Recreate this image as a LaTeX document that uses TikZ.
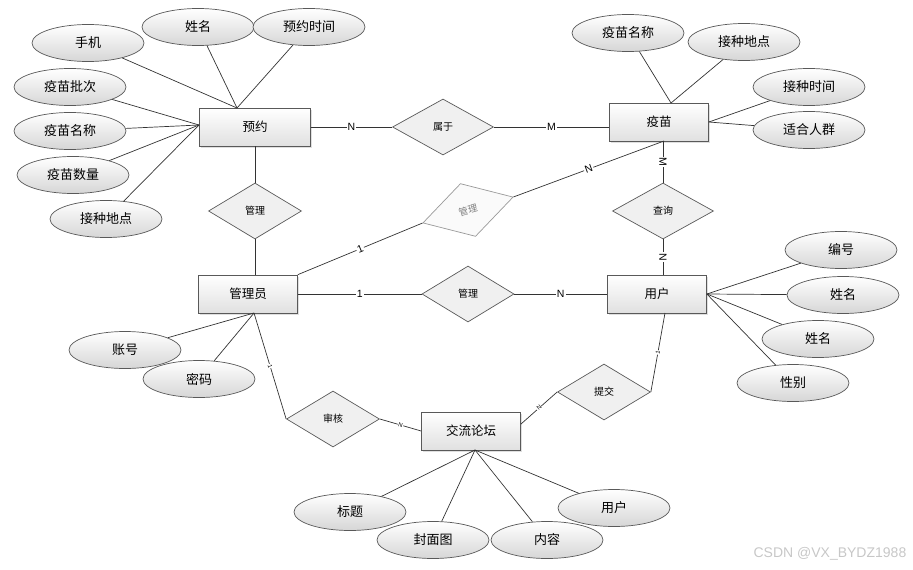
\documentclass[tikz,border=0pt]{standalone}
\usepackage{fontspec}
\setmainfont{Noto Sans CJK SC}
\newfontfamily\wmfont{Liberation Sans}
\usetikzlibrary{shapes.geometric}
\usetikzlibrary{shadows}

\begin{document}
\begin{tikzpicture}
		[x=1pt, y=-1pt, draw=black!80, line width=0.7pt,
		entity/.style={rectangle, draw=black!65, top color=white, bottom color=black!12, minimum width=99pt, minimum height=38pt, inner sep=0pt, font=\fontsize{12.5}{14}\selectfont, drop shadow={opacity=0.25, shadow xshift=1.5pt, shadow yshift=-1.5pt}},
		attr/.style={ellipse, draw=black!65, top color=white, bottom color=black!16, minimum width=112pt, minimum height=37pt, inner sep=0pt, font=\fontsize{13}{15}\selectfont},
		rel/.style={diamond, draw=black!65, fill=black!6, minimum width=101pt, minimum height=56pt, inner sep=0pt, font=\fontsize{10}{12}\selectfont},
		lbl/.style={fill=white, inner sep=1pt, font=\wmfont\fontsize{10.5}{12}\selectfont},
		tinylbl/.style={fill=white, inner sep=0.5pt, font=\wmfont\fontsize{6}{7}\selectfont, sloped}]
		\useasboundingbox (0,0) rectangle (913,570);

		% entities
		\node[entity, minimum width=111pt] (yy) at (255,127) {预约};
		\node[entity] (ym) at (659,122) {疫苗};
		\node[entity] (gly) at (248,294) {管理员};
		\node[entity] (yh) at (657,294) {用户};
		\node[entity] (lt) at (471,431) {交流论坛};

		% relations
		\node[rel] (sy) at (443,127) {属于};
		\node[rel, minimum width=93pt] (gl1) at (255,211) {管理};
		\node[rel, minimum width=94pt, minimum height=55pt, rotate=16, draw=black!40, fill=black!2, text=black!50, font=\fontsize{9.5}{11}\selectfont] (gl2) at (468,210) {管理};
		\node[rel, minimum width=92pt] (gl3) at (468,294) {管理};
		\node[rel] (cx) at (663,211) {查询};
		\node[rel, minimum width=93pt] (sh) at (333,419) {审核};
		\node[rel, minimum width=93pt] (tj) at (604,392) {提交};

		% attributes of 预约
		\node[attr] (sj) at (88,43) {手机};
		\node[attr] (xm1) at (198,27) {姓名};
		\node[attr] (yysj) at (309,27) {预约时间};
		\node[attr] (ympc) at (70,87) {疫苗批次};
		\node[attr] (ymmc1) at (70,131) {疫苗名称};
		\node[attr] (ymsl) at (73,175) {疫苗数量};
		\node[attr] (jzdd1) at (106,219) {接种地点};

		% attributes of 疫苗
		\node[attr] (ymmc2) at (628,33) {疫苗名称};
		\node[attr] (jzdd2) at (744,42) {接种地点};
		\node[attr] (jzsj) at (809,87) {接种时间};
		\node[attr] (shrq) at (809,130) {适合人群};

		% attributes of 用户
		\node[attr] (bh) at (841,250) {编号};
		\node[attr] (xm2) at (843,295) {姓名};
		\node[attr] (xm3) at (818,339) {姓名};
		\node[attr] (xb) at (793,383) {性别};

		% attributes of 管理员
		\node[attr] (zh) at (125,350) {账号};
		\node[attr] (mm) at (199,379) {密码};

		% attributes of 交流论坛
		\node[attr] (bt) at (350,512) {标题};
		\node[attr] (fmt) at (433,540) {封面图};
		\node[attr] (nr) at (547,540) {内容};
		\node[attr] (yh2) at (614,508) {用户};

		\coordinate (yytop) at (237,108);
		\coordinate (yyleft) at (199,125);
		\coordinate (ymtop) at (671,103);
		\coordinate (ymbot) at (664,141);
		\coordinate (glybot) at (254,313);
		\coordinate (yhbot) at (665,313);
		\coordinate (ltbot) at (475,450);
		\coordinate (ltne) at (521,424);

		\draw (sj) to (yytop);
		\draw (xm1) to (yytop);
		\draw (yysj) to (yytop);
		\draw (ympc) to (yyleft);
		\draw (ymmc1) to (yyleft);
		\draw (ymsl) to (yyleft);
		\draw (jzdd1) to (yyleft);

		\draw (ymmc2) to (ymtop);
		\draw (jzdd2) to (ymtop);
		\draw (jzsj) to (ym.east);
		\draw (shrq) to (ym.east);

		\draw (bh) to (yh.east);
		\draw (xm2) to (yh.east);
		\draw (xm3) to (yh.east);
		\draw (xb) to (yh.east);

		\draw (zh) to (glybot);
		\draw (mm) to (glybot);

		\draw (bt) to (ltbot);
		\draw (fmt) to (ltbot);
		\draw (nr) to (ltbot);
		\draw (yh2) to (ltbot);

		\draw (yy.east) to node[lbl] {N} (sy.west);
		\draw (sy.east) to node[lbl] {M} (sy.east -| ym.west);
		\draw (yy.south) to (gl1.north);
		\draw (gl1.south) to (gl1.south |- gly.north);
		\draw (gly.north east) to node[lbl, sloped] {1} (gl2.west);
		\draw (gl2.east) to node[lbl, sloped] {N} (ymbot);
		\draw (gly.east) to node[lbl] {1} (gl3.west);
		\draw (gl3.east) to node[lbl] {N} (yh.west);
		\draw (cx.north |- ym.south) to node[lbl, sloped] {M} (cx.north);
		\draw (cx.south) to node[lbl, sloped] {N} (cx.south |- yh.north);
		\draw (yhbot) to node[tinylbl] {1} (tj.east);
		\draw (tj.west) to node[tinylbl] {N} (ltne);
		\draw (sh.east) to node[tinylbl] {N} (lt.west);
		\draw (glybot) to node[tinylbl] {1} (sh.west);

		\node[anchor=east, text=black!22, font=\wmfont\fontsize{14}{16}\selectfont] (wm) at (910,554) {CSDN @VX\_BYDZ1988};
	\end{tikzpicture}
\end{document}
